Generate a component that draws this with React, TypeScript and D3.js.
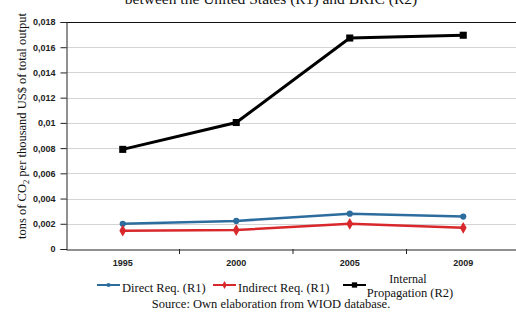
import React, { useEffect, useRef } from "react";
import * as d3 from "d3";

const years = ["1995", "2000", "2005", "2009"];
const directReq = [0.002, 0.00223, 0.0028, 0.00257];
const indirectReq = [0.00145, 0.0015, 0.002, 0.00168];
const internalProp = [0.0079, 0.01003, 0.01673, 0.01695];
const yTicks = [0, 0.002, 0.004, 0.006, 0.008, 0.01, 0.012, 0.014, 0.016, 0.018];
const yTickLabels = ["0", "0,002", "0,004", "0,006", "0,008", "0,01", "0,012", "0,014", "0,016", "0,018"];

const App = () => {
  const ref = useRef<SVGSVGElement>(null);

  useEffect(() => {
    drawChart();
  }, []);

  const drawChart = () => {
    const svg = d3.select(ref.current);
    svg.selectAll("*").remove();

    const left = 66;
    const right = 520;
    const top = 22;
    const bottom = 249;

    const x = d3.scaleBand().domain(years).range([left, right]);
    const y = d3.scaleLinear().domain([0, 0.018]).range([bottom, top]);

    // title (cut off at the top in the original)
    svg
      .append("text")
      .attr("x", 271)
      .attr("y", 3.5)
      .attr("text-anchor", "middle")
      .attr("font-family", "Liberation Serif")
      .attr("font-size", 15.5)
      .attr("fill", "#111")
      .text("between the United States (R1) and BRIC (R2)");

    // gridlines
    svg
      .append("g")
      .selectAll("line")
      .data(yTicks.slice(1, -1))
      .join("line")
      .attr("x1", left)
      .attr("x2", 516)
      .attr("y1", (d) => Math.round(y(d)) + 0.5)
      .attr("y2", (d) => Math.round(y(d)) + 0.5)
      .attr("stroke", "#d4d4d4")
      .attr("stroke-width", 1.2);

    svg
      .append("line")
      .attr("x1", left)
      .attr("x2", 516)
      .attr("y1", top + 0.5)
      .attr("y2", top + 0.5)
      .attr("stroke", "#111")
      .attr("stroke-width", 1.2);

    // y axis
    const yAxis = svg
      .append("g")
      .attr("transform", `translate(${left + 0.5},0)`)
      .call(
        d3
          .axisLeft(y)
          .tickValues(yTicks)
          .tickSize(6)
          .tickPadding(5)
          .tickFormat((d, i) => yTickLabels[i])
      );
    yAxis.select(".domain").attr("stroke", "#222");
    yAxis.selectAll(".tick line").attr("stroke", "#222");
    yAxis
      .selectAll("text")
      .attr("font-family", "Liberation Sans")
      .attr("font-weight", "bold")
      .attr("font-size", 9)
      .attr("fill", "#222");

    // x axis
    const xAxis = svg
      .append("g")
      .attr("transform", `translate(0,${bottom + 0.5})`)
      .call(d3.axisBottom(x).tickSize(0).tickPadding(10));
    xAxis.select(".domain").attr("stroke", "#222").attr("stroke-width", 1.2);
    xAxis
      .selectAll("text")
      .attr("font-family", "Liberation Sans")
      .attr("font-weight", "bold")
      .attr("font-size", 9)
      .attr("fill", "#222");
    svg
      .append("g")
      .selectAll("line")
      .data(years.slice(1))
      .join("line")
      .attr("x1", (d) => x(d)!)
      .attr("x2", (d) => x(d)!)
      .attr("y1", bottom)
      .attr("y2", bottom + 5)
      .attr("stroke", "#222");

    const line = d3
      .line<number>()
      .x((d, i) => x(years[i])! + x.bandwidth() / 2)
      .y((d) => y(d));

    const series = [
      { values: directReq, color: "#2c6d9e", marker: "circle" },
      { values: indirectReq, color: "#d8282c", marker: "diamond" },
      { values: internalProp, color: "#000", marker: "square" },
    ];

    series.forEach((s) => {
      svg
        .append("path")
        .datum(s.values)
        .attr("fill", "none")
        .attr("stroke", s.color)
        .attr("stroke-width", s.marker === "square" ? 3 : 2.5)
        .attr("d", line);

      const sym =
        s.marker === "circle" ? d3.symbolCircle : s.marker === "diamond" ? d3.symbolDiamond : d3.symbolSquare;
      const size = s.marker === "circle" ? 30 : s.marker === "diamond" ? 40 : 50;
      svg
        .append("g")
        .selectAll("path")
        .data(s.values)
        .join("path")
        .attr("transform", (d, i) => `translate(${x(years[i])! + x.bandwidth() / 2},${y(d)})`)
        .attr("d", d3.symbol().type(sym).size(size)())
        .attr("fill", s.color);
    });

    // legend
    const legend = [
      { label: "Direct Req. (R1)", color: "#2c6d9e", marker: d3.symbolCircle, size: 14, x: 97 },
      { label: "Indirect Req. (R1)", color: "#d8282c", marker: d3.symbolDiamond, size: 18, x: 213 },
      { label: "", color: "#000", marker: d3.symbolSquare, size: 28, x: 343 },
    ];
    const ly = 285;
    legend.forEach((l) => {
      svg
        .append("line")
        .attr("x1", l.x)
        .attr("x2", l.x + 23)
        .attr("y1", ly)
        .attr("y2", ly)
        .attr("stroke", l.color)
        .attr("stroke-width", 2);
      svg
        .append("path")
        .attr("transform", `translate(${l.x + 11.5},${ly})`)
        .attr("d", d3.symbol().type(l.marker).size(l.size)())
        .attr("fill", l.color);
      if (l.label) {
        svg
          .append("text")
          .attr("x", l.x + 25)
          .attr("y", ly + 7)
          .attr("font-family", "Liberation Serif")
          .attr("font-size", 12.5)
          .attr("fill", "#111")
          .text(l.label);
      }
    });
    svg
      .append("text")
      .attr("x", 408)
      .attr("y", 283)
      .attr("text-anchor", "middle")
      .attr("font-family", "Liberation Serif")
      .attr("font-size", 12)
      .attr("fill", "#111")
      .text("Internal");
    svg
      .append("text")
      .attr("x", 410)
      .attr("y", 297)
      .attr("text-anchor", "middle")
      .attr("font-family", "Liberation Serif")
      .attr("font-size", 12.5)
      .attr("fill", "#111")
      .text("Propagation (R2)");

    // source
    svg
      .append("text")
      .attr("x", 271)
      .attr("y", 308)
      .attr("text-anchor", "middle")
      .attr("font-family", "Liberation Serif")
      .attr("font-size", 12.5)
      .attr("fill", "#111")
      .text("Source: Own elaboration from WIOD database.");

    // y label
    const yl = svg
      .append("text")
      .attr("transform", `translate(22,126) rotate(-90)`)
      .attr("text-anchor", "middle")
      .attr("dy", 4)
      .attr("font-family", "Liberation Serif")
      .attr("font-size", 12.5)
      .attr("fill", "#111");
    yl.append("tspan").text("tons of CO");
    yl.append("tspan").attr("font-size", 8.5).attr("dy", 3).text("2");
    yl.append("tspan").attr("dy", -3).text(" per thousand US$ of total output");
  };

  return (
    <div>
      <svg
        ref={ref}
        width={516}
        height={318}
        style={{ position: "absolute", left: 0, top: 0, display: "block", background: "#fff" }}
      ></svg>
    </div>
  );
};

export default App;
